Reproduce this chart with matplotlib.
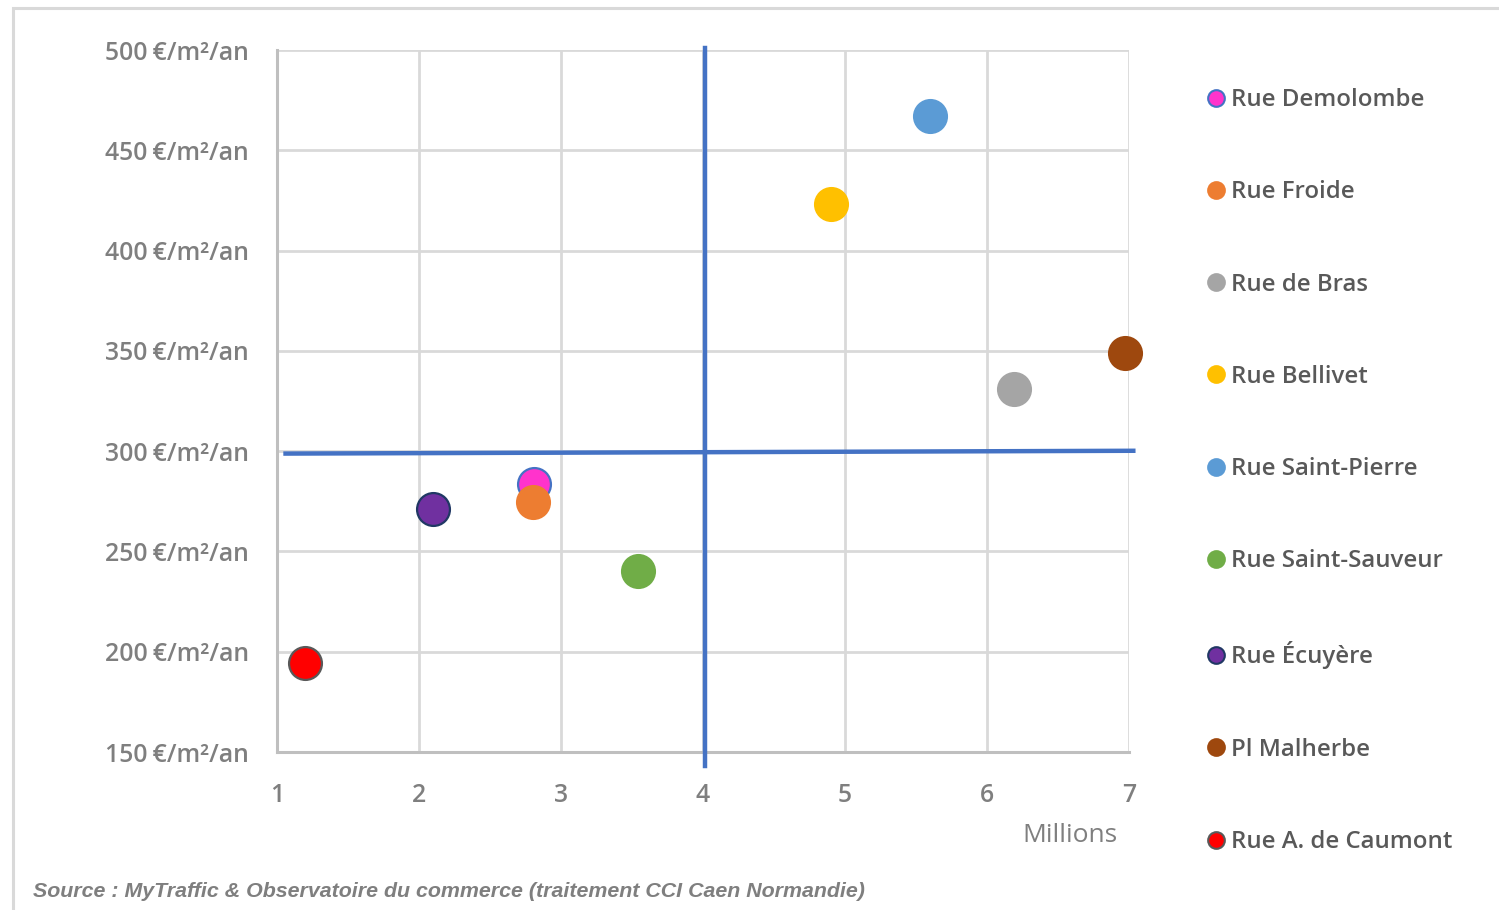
import matplotlib.pyplot as plt
from matplotlib.lines import Line2D
from matplotlib.patches import Rectangle

# streets: pedestrian flow (millions) vs. rent (EUR/m2/year)
streets = ["Rue Demolombe", "Rue Froide", "Rue de Bras", "Rue Bellivet", "Rue Saint-Pierre",
           "Rue Saint-Sauveur", "Rue Écuyère", "Pl Malherbe", "Rue A. de Caumont"]
flow = [2.81, 2.80, 6.19, 4.90, 5.60, 3.54, 2.10, 6.97, 1.20]
rent = [283.5, 274.5, 331, 423, 467, 240.5, 271, 349, 194.5]
fill = ["#FF33CC", "#ED7D31", "#A5A5A5", "#FFC000", "#5B9BD5", "#70AD47", "#7030A0", "#9E480E", "#FF0000"]
edge = ["#4472C4", "#ED7D31", "#A5A5A5", "#FFC000", "#5B9BD5", "#70AD47", "#203864", "#9E480E", "#595959"]

x_ticks = [1, 2, 3, 4, 5, 6, 7]
y_ticks = [150, 200, 250, 300, 350, 400, 450, 500]
mid_x = 4.012
mid_y = 299.5

font = "Open Sans"
tick_grey = "#7F7F7F"
text_grey = "#595959"

fig = plt.figure(figsize=(14.99, 9.10), dpi=100)
ax = fig.add_axes([0.1848, 0.1736, 0.5684, 0.7714])

# outer frame of the pasted chart (top and left sides visible)
fig.patches.append(Rectangle((0.0087, -0.1), 1.2, 1.0912, transform=fig.transFigure,
                             fill=False, edgecolor="#D9D9D9", linewidth=2.2))

for i in range(len(streets)):
    ax.scatter(flow[i], rent[i], s=560, color=fill[i], edgecolors=edge[i], linewidths=1.6,
               zorder=5, clip_on=False)

# quadrant lines
ax.plot([mid_x, mid_x], [501, 143], color="#4472C4", lw=3.2, zorder=4, clip_on=False)
ax.plot([1.06, 7.03], [mid_y - 0.7, mid_y + 0.7], color="#4472C4", lw=3.2, zorder=4, clip_on=False)

ax.set_xlim(1, 7)
ax.set_ylim(150, 500)
ax.set_xticks(x_ticks)
ax.set_yticks(y_ticks)
ax.set_xticklabels([str(v) for v in x_ticks])
ax.set_yticklabels([f"{v}\u2009€/m²/an" for v in y_ticks])
ax.grid(True, color="#D9D9D9", lw=2)
ax.set_axisbelow(True)
for s in ["top", "right"]:
    ax.spines[s].set_visible(False)
for s in ["left", "bottom"]:
    ax.spines[s].set_color("#BFBFBF")
    ax.spines[s].set_linewidth(2.2)
ax.tick_params(length=0, pad=20)
ax.tick_params(axis="x", pad=22)
for lab in ax.get_xticklabels() + ax.get_yticklabels():
    lab.set_fontfamily(font)
    lab.set_fontsize(17.8)
    lab.set_fontweight("semibold")
    lab.set_color(tick_grey)

fig.text(0.7138, 0.0824, "Millions", family=font, fontsize=19, color=tick_grey,
         ha="center", va="center")

handles = [Line2D([], [], ls="", marker="o", markersize=12, markerfacecolor=fill[i],
                  markeredgecolor=edge[i], markeredgewidth=1.5) for i in range(len(streets))]
leg = fig.legend(handles, streets, loc="upper left", bbox_to_anchor=(0.789, 0.927),
                 frameon=False, handletextpad=0.1, handlelength=1.0, labelspacing=2.84,
                 prop={"family": font, "size": 17.3, "weight": "semibold"})
for t in leg.get_texts():
    t.set_color(text_grey)

fig.text(0.022, 0.0198, "Source : MyTraffic & Observatoire du commerce (traitement CCI Caen Normandie)",
         family="Liberation Sans", style="italic", weight="bold", fontsize=15.4,
         color="#7F7F7F", ha="left", va="center")

fig.savefig("out.png", dpi=100)
